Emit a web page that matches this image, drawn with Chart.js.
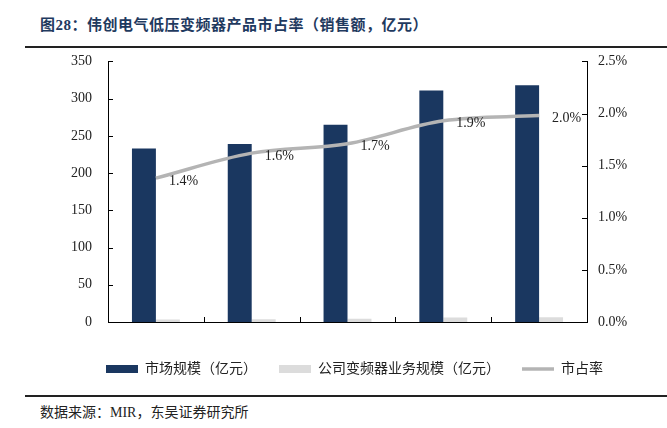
<!DOCTYPE html>
<html>
<head>
<meta charset="utf-8">
<script src="https://cdn.jsdelivr.net/npm/chart.js@4.4.0/dist/chart.umd.min.js"></script>
<style>
  body { margin: 0; background: #fff; width: 667px; height: 428px; position: relative; overflow: hidden; }
  #title { position: absolute; left: 40px; top: 13px; font: bold 15px "Liberation Serif", "Noto Sans CJK SC"; color: #1f3a5f; letter-spacing: 0.5px; }
  .rule { position: absolute; left: 25px; right: 0; height: 2px; background: #222; }
  #source { position: absolute; left: 40px; top: 401px; font: 14px "Liberation Serif", "Noto Sans CJK SC"; color: #222; }
  #wrap { position: absolute; left: 0; top: 37px; width: 667px; height: 353px; }
</style>
</head>
<body>
<div id="title">图28：伟创电气低压变频器产品市占率（销售额，亿元）</div>
<div class="rule" style="top:46px"></div>
<div id="wrap"><canvas id="myChart"></canvas></div>
<div class="rule" style="top:395px"></div>
<div id="source">数据来源：MIR，东吴证券研究所</div>
<script>
var years = ['2018', '2019', '2020', '2021', '2022'];
var marketSize = [233, 239, 265, 311, 318];
var companySize = [3.3, 3.8, 4.5, 5.9, 6.3];
var shareLine = [1.38, 1.62, 1.71, 1.93, 1.98];
var shareLabels = ['1.4%', '1.6%', '1.7%', '1.9%', '2.0%'];

var serif = '"Liberation Serif", "Noto Sans CJK SC"';

// 刻度线朝内画
var innerTicks = {
    id: 'innerTicks',
    afterDraw: function(chart) {
        var ctx = chart.ctx;
        var area = chart.chartArea;
        var y = chart.scales.y, y1 = chart.scales.y1, x = chart.scales.x;
        ctx.save();
        ctx.strokeStyle = '#000';
        ctx.lineWidth = 1;
        ctx.beginPath();
        y.ticks.forEach(function(t) {
            var p = Math.round(y.getPixelForValue(t.value)) + 0.5;
            ctx.moveTo(area.left, p); ctx.lineTo(area.left + 5, p);
        });
        y1.ticks.forEach(function(t) {
            var p = Math.round(y1.getPixelForValue(t.value)) + 0.5;
            ctx.moveTo(area.right, p); ctx.lineTo(area.right - 5, p);
        });
        for (var i = 1; i < years.length; i++) {
            var px = Math.round((x.getPixelForValue(i - 1) + x.getPixelForValue(i)) / 2) + 0.5;
            ctx.moveTo(px, area.bottom); ctx.lineTo(px, area.bottom - 5);
        }
        ctx.stroke();
        ctx.restore();
    }
};

// 折线数据标签
var shareText = {
    id: 'shareText',
    afterDatasetsDraw: function(chart) {
        var ctx = chart.ctx;
        var meta = chart.getDatasetMeta(2);
        ctx.save();
        ctx.font = '14px ' + serif;
        ctx.fillStyle = '#222';
        ctx.textAlign = 'left';
        ctx.textBaseline = 'middle';
        meta.data.forEach(function(pt, i) {
            ctx.fillText(shareLabels[i], pt.x + 13, pt.y + 3);
        });
        ctx.restore();
    }
};

// 图例整体右移一点
var legendShift = {
    id: 'legendShift',
    afterLayout: function(chart) {
        chart.legend.left += 21;
        chart.legend.right += 21;
    }
};

var ctx = document.getElementById('myChart');
var myChart = new Chart(ctx, {
    type: 'bar',
    data: {
        labels: years,
        datasets: [{
            label: '市场规模（亿元）',
            data: marketSize,
            backgroundColor: '#1a3760',
            yAxisID: 'y',
            order: 1,
            categoryPercentage: 0.5,
            barPercentage: 1
        }, {
            label: '公司变频器业务规模（亿元）',
            data: companySize,
            backgroundColor: '#dcdcdc',
            yAxisID: 'y',
            order: 1,
            categoryPercentage: 0.5,
            barPercentage: 1
        }, {
            type: 'line',
            label: '市占率',
            data: shareLine,
            borderColor: '#b4b4b4',
            backgroundColor: '#b4b4b4',
            borderWidth: 3.5,
            pointRadius: 0,
            tension: 0.35,
            yAxisID: 'y1',
            order: 0
        }]
    },
    options: {
        responsive: true,
        maintainAspectRatio: false,
        animation: false,
        layout: { padding: { top: 0, bottom: 4, left: 0, right: 0 } },
        plugins: {
            tooltip: { enabled: false },
            legend: {
                position: 'bottom',
                labels: {
                    usePointStyle: true,
                    pointStyleWidth: 32,
                    boxHeight: 8,
                    padding: 22,
                    color: '#222',
                    font: { size: 14, family: serif },
                    sort: function(a, b) { return a.datasetIndex - b.datasetIndex; },
                    generateLabels: function(chart) {
                        var items = Chart.defaults.plugins.legend.labels.generateLabels(chart);
                        items.forEach(function(it) {
                            if (it.datasetIndex === 2) {
                                it.pointStyle = 'line';
                                it.lineWidth = 3.5;
                                it.strokeStyle = '#b4b4b4';
                            } else {
                                it.pointStyle = 'rect';
                                it.lineWidth = 0;
                            }
                        });
                        return items;
                    }
                }
            }
        },
        scales: {
            x: {
                grid: { display: false },
                border: { display: true, color: '#000', width: 1 },
                ticks: { color: '#222', font: { size: 14, family: serif }, padding: 9 },
                afterFit: function(s) { s.height = 18; }
            },
            y: {
                position: 'left',
                min: 0,
                max: 350,
                grid: { display: false, drawTicks: false },
                border: { display: true, color: '#000', width: 1 },
                ticks: { stepSize: 50, color: '#222', font: { size: 14, family: serif }, padding: 16 },
                afterFit: function(s) { s.width = 108; }
            },
            y1: {
                position: 'right',
                min: 0,
                max: 2.5,
                grid: { display: false, drawTicks: false },
                border: { display: true, color: '#000', width: 1 },
                ticks: {
                    stepSize: 0.5,
                    color: '#222',
                    font: { size: 14, family: serif },
                    padding: 11,
                    callback: function(v) { return v.toFixed(1) + '%'; }
                },
                afterFit: function(s) { s.width = 80; }
            }
        }
    },
    plugins: [innerTicks, shareText, legendShift]
});
</script>
</body>
</html>
